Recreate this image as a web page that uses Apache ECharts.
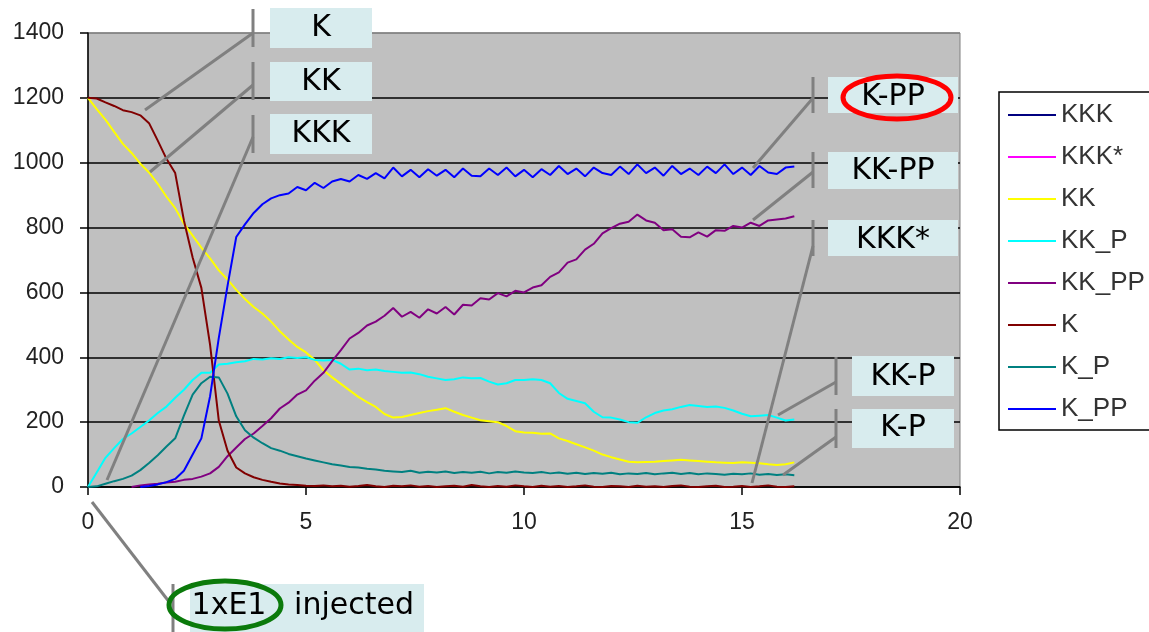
<!DOCTYPE html>
<html>
<head>
<meta charset="utf-8">
<script src="https://cdn.jsdelivr.net/npm/echarts@6/dist/echarts.min.js"></script>
<style>html,body{margin:0;padding:0;background:#fff;}#c{width:1149px;height:632px;}</style>
</head>
<body>
<div id="c"></div>
<script>
// time points (shared by all series)
var times = [0,0.2,0.4,0.6,0.8,1.0,1.2,1.4,1.6,1.8,
 2.0,2.2,2.4,2.6,2.8,3.0,3.2,3.4,3.6,3.8,
 4.0,4.2,4.4,4.6,4.8,5.0,5.2,5.4,5.6,5.8,
 6.0,6.2,6.4,6.6,6.8,7.0,7.2,7.4,7.6,7.8,
 8.0,8.2,8.4,8.6,8.8,9.0,9.2,9.4,9.6,9.8,
 10.0,10.2,10.4,10.6,10.8,11.0,11.2,11.4,11.6,11.8,
 12.0,12.2,12.4,12.6,12.8,13.0,13.2,13.4,13.6,13.8,
 14.0,14.2,14.4,14.6,14.8,15.0,15.2,15.4,15.6,15.8,
 16.0,16.2];

var seriesNames = ['KKK','KKK*','KK','KK_P','KK_PP','K','K_P','K_PP'];

var valKKK = [];
var valKKKstar = [];
var valKK = [1200,1165,1133,1095,1058,1030,997,970,935,895,
 860,812,775,738,705,668,640,608,580,555,
 535,510,480,455,432,415,392,360,338,318,
 298,278,262,247,225,214,216,222,228,234,
 238,243,232,222,214,206,203,200,188,172,
 168,167,164,165,150,142,132,122,112,100,
 92,85,78,76,77,78,80,82,84,82,
 80,78,76,75,74,76,75,73,70,68,
 70,76];
var valKK_P = [0,45,90,120,148,165,185,205,228,248,
 275,300,330,352,352,378,380,385,388,395,
 393,397,395,400,398,400,392,390,392,380,
 362,365,360,362,358,355,352,353,348,340,
 335,330,332,338,335,336,325,316,320,330,
 330,332,330,320,290,272,265,258,232,215,
 214,208,200,198,215,228,236,240,247,253,
 250,247,248,244,236,226,218,220,222,214,
 205,208];
var valKK_PP = [null,null,null,null,null,0,5,8,10,14,
 16,22,25,32,42,62,95,122,148,165,
 188,212,242,260,285,298,328,352,388,422,
 458,475,498,510,528,552,525,540,522,548,
 535,555,532,562,560,582,578,598,588,605,
 600,615,622,648,662,692,702,732,750,782,
 798,812,818,840,822,815,792,795,772,770,
 785,772,792,790,805,800,815,805,822,825,
 828,835];
var valK = [1200,1198,1186,1175,1162,1156,1146,1122,1068,1012,
 968,822,708,614,438,205,112,60,42,30,
 22,16,11,8,6,4,3,5,2,4,
 1,3,6,2,0,4,2,5,1,3,
 0,2,4,1,6,2,0,3,1,5,
 2,0,4,1,3,0,2,5,1,0,
 3,2,0,4,1,2,0,3,5,1,
 0,2,4,0,1,3,0,2,5,1,
 0,2];
var valK_P = [0,2,10,18,25,35,52,74,98,125,
 150,220,285,320,340,338,288,218,175,152,
 135,120,112,102,95,88,82,76,70,66,
 62,60,56,54,50,48,46,50,44,47,
 45,48,43,46,44,47,42,46,44,48,
 45,43,46,42,45,41,44,40,43,41,
 44,39,42,40,43,39,42,44,40,43,
 39,42,40,38,41,39,42,38,40,37,
 39,36];
var valK_PP = [null,null,null,null,null,null,0,3,8,15,
 25,50,100,150,280,460,620,771,810,845,
 872,890,900,905,925,915,938,922,942,950,
 942,962,950,968,952,985,958,978,955,980,
 960,978,955,982,960,958,982,962,985,958,
 978,955,980,962,990,965,982,958,985,968,
 962,988,965,995,968,985,960,990,965,982,
 962,988,968,995,965,985,962,990,970,965,
 985,988];

var xTicks = [0,5,10,15,20];
var yTicks = [0,200,400,600,800,1000,1200,1400];

var colors = ['#000080','#FF00FF','#FFFF00','#00FFFF','#800080','#800000','#008080','#0000FF'];
var allVals = [valKKK, valKKKstar, valKK, valKK_P, valKK_PP, valK, valK_P, valK_PP];

function pairs(vals){
  var out = [];
  for (var i = 0; i < vals.length; i++) {
    if (vals[i] !== null && vals[i] !== undefined) out.push([times[i], vals[i]]);
  }
  return out;
}

var series = seriesNames.map(function(n, i){
  return {
    name: n, type: 'line', data: pairs(allVals[i]), symbol: 'none',
    showSymbol: false, animation: false,
    lineStyle: {color: colors[i], width: 2}, itemStyle: {color: colors[i]},
    connectNulls: false
  };
});

var FONT = '"DejaVu Sans", sans-serif';
var G = '#808080';
function box(x, y, w, h){ return {type:'rect', z:100, shape:{x:x,y:y,width:w,height:h}, style:{fill:'#D8ECEE'}}; }
function seg(x1,y1,x2,y2){ return {type:'line', z:101, shape:{x1:x1,y1:y1,x2:x2,y2:y2}, style:{stroke:G, lineWidth:3}}; }
function txt(x, y, s){ return {type:'text', z:103, x:x, y:y, style:{text:s, font:'30px ' + FONT, fill:'#000', align:'center', verticalAlign:'middle'}}; }

var graphics = [
  box(270,8,102,40), seg(253,9,253,47), seg(253,33,145,110), txt(321,28,'K'),
  box(270,62,102,39), seg(253,62,253,100), seg(253,85,150,172), txt(321,82,'KK'),
  box(270,114,102,40), seg(253,115,253,153), seg(253,137,107,480), txt(321,134,'KKK'),
  box(828,77,130,36), seg(813,77,813,113), seg(813,98,753,168), txt(893,97,'K-PP'),
  box(828,152,130,37), seg(813,152,813,188), seg(813,172,753,220), txt(893,171,'KK-PP'),
  box(828,220,130,36), seg(813,220,813,256), seg(813,246,752,483), txt(893,240,'KKK*'),
  box(852,356,102,40), seg(836,357,836,395), seg(836,382,778,415), txt(903,377,'KK-P'),
  box(852,409,102,39), seg(836,409,836,448), seg(836,437,783,475), txt(903,428,'K-P'),
  box(190,584,234,60), seg(173,584,173,632), seg(92,502,170,603),
  txt(229,606,'1xE1'), txt(354,606,'injected'),
  {type:'ellipse', z:104, shape:{cx:897,cy:97.5,rx:54,ry:21.5}, style:{fill:null, stroke:'#FF0000', lineWidth:5}},
  {type:'ellipse', z:104, shape:{cx:225,cy:605,rx:56,ry:24}, style:{fill:null, stroke:'#0B7A0B', lineWidth:5}}
];

var AXF = '"Liberation Sans", Arial, sans-serif';
var chart = echarts.init(document.getElementById('c'), null, {renderer:'canvas'});
chart.setOption({
  animation: false,
  backgroundColor: '#ffffff',
  grid: {left: 88, right: 189, top: 33, bottom: 145, show: true, backgroundColor: '#C0C0C0', borderColor: G, borderWidth: 1},
  xAxis: {
    type: 'value', min: xTicks[0], max: xTicks[xTicks.length-1], interval: 5,
    axisLine: {show: true, lineStyle: {color: '#000', width: 1.5}},
    axisTick: {show: true, length: 8, lineStyle: {color: '#000', width: 1.5}},
    axisLabel: {fontSize: 23, color: '#222', margin: 24, fontFamily: AXF, formatter: function(v){ return String(v); }},
    splitLine: {show: false}
  },
  yAxis: {
    type: 'value', min: yTicks[0], max: yTicks[yTicks.length-1], interval: 200,
    axisLine: {show: true, lineStyle: {color: '#000', width: 1.5}},
    axisTick: {show: true, length: 8, lineStyle: {color: '#000', width: 1.5}},
    axisLabel: {fontSize: 23, color: '#222', margin: 24, fontFamily: AXF, formatter: function(v){ return String(v); }},
    splitLine: {show: true, lineStyle: {color: ['#000','#000','#000','#000','#000','#000','#000', G], width: 1.5}}
  },
  legend: {
    data: seriesNames, orient: 'vertical', left: 999, top: 92,
    padding: [10, 40, 8, 9], itemGap: 16, itemWidth: 48, itemHeight: 2, icon: 'rect',
    backgroundColor: '#fff', borderColor: '#000', borderWidth: 1.5,
    textStyle: {fontSize: 26, color: '#333', fontFamily: AXF},
    selectedMode: false
  },
  series: series,
  graphic: graphics
});
</script>
</body>
</html>
